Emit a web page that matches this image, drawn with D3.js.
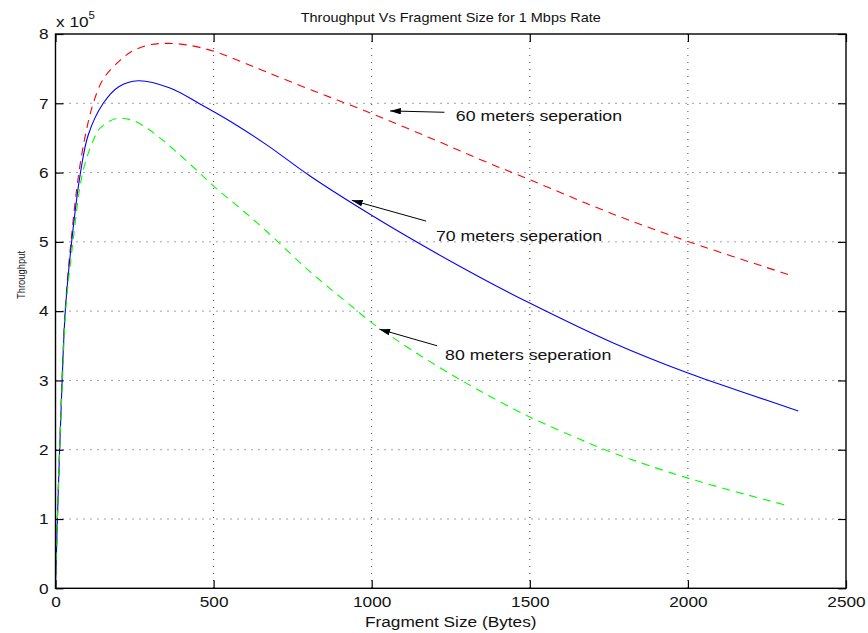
<!DOCTYPE html>
<html><head><meta charset="utf-8">
<script src="https://cdn.jsdelivr.net/npm/d3@7"></script>
<style>
body{margin:0;background:#fff;}
svg{display:block;font-family:"Liberation Sans",Arial,Helvetica,sans-serif;}
</style></head>
<body><svg id="c" width="868" height="633"></svg>
<script>
// ---- data (throughput in units of 1e5) ----
const xTicks = [0, 500, 1000, 1500, 2000, 2500];
const yTicks = [0, 1, 2, 3, 4, 5, 6, 7, 8];

const red60X = [0, 6, 13, 21, 31, 50, 74, 95, 118, 151, 204, 246, 299, 356, 420, 501, 580, 668, 805, 1001, 1195, 1353, 1498, 1764, 1998, 2323];
const red60Y = [0, 1.0, 2.0, 3.05, 4.05, 5.05, 6.0, 6.55, 6.98, 7.35, 7.62, 7.76, 7.845, 7.865, 7.84, 7.75, 7.615, 7.45, 7.20, 6.85, 6.48, 6.17, 5.90, 5.40, 5.01, 4.52];

const blue70X = [0, 6, 13, 21, 31, 51, 79, 104, 151, 200, 262, 362, 457, 560, 668, 805, 1001, 1195, 1342, 1498, 1764, 1998, 2200, 2349];
const blue70Y = [0, 1.0, 2.0, 3.0, 4.0, 5.0, 6.0, 6.55, 7.0, 7.24, 7.325, 7.22, 6.99, 6.72, 6.40, 5.95, 5.38, 4.86, 4.49, 4.12, 3.54, 3.11, 2.79, 2.56];

const green80X = [0, 6, 13, 22, 32, 54, 86, 120, 141, 193, 246, 299, 357, 457, 501, 580, 668, 805, 942, 1001, 1150, 1269, 1342, 1501, 1659, 1754, 2000, 2318];
const green80Y = [0, 1.0, 2.0, 3.0, 4.0, 4.95, 6.0, 6.47, 6.64, 6.78, 6.75, 6.61, 6.40, 5.99, 5.80, 5.50, 5.15, 4.57, 4.05, 3.83, 3.37, 3.04, 2.85, 2.47, 2.15, 1.97, 1.59, 1.19];

const annLabels = ["60 meters seperation", "70 meters seperation", "80 meters seperation"];
const annTipX = [1058, 937, 1024];
const annTipY = [6.89, 5.60, 3.74];
const annTailX = [1230, 1172, 1207];
const annTailY = [6.87, 5.30, 3.50];
const annTextX = [1266, 1203, 1232];
const annTextY = [6.75, 5.01, 3.30];

const titleText = "Throughput Vs Fragment Size for 1 Mbps Rate";
const xLabel = "Fragment Size (Bytes)";
const yLabel = "Throughput";

// ---- layout ----
const L = 55.5, R = 846, T = 34, B = 588.3;
const SX = 1.15;
const svg = d3.select("#c");
svg.append("rect").attr("width", 868).attr("height", 633).attr("fill", "#fff");

const x = d3.scaleLinear().domain([0, 2500]).range([L, R]);
const y = d3.scaleLinear().domain([0, 8]).range([B, T]);

// grid
const grid = svg.append("g").attr("stroke", "#444").attr("stroke-width", 1).attr("stroke-dasharray", "1,6");
grid.selectAll(".gx").data(xTicks.slice(1, -1)).join("line")
  .attr("x1", d => x(d)).attr("x2", d => x(d)).attr("y1", T).attr("y2", B);
grid.selectAll(".gy").data(yTicks.slice(1, -1)).join("line")
  .attr("y1", d => y(d)).attr("y2", d => y(d)).attr("x1", L).attr("x2", R);

// curves
const line = d3.line().x(d => x(d[0])).y(d => y(d[1])).curve(d3.curveCatmullRom.alpha(0.5));
const series = [
  {xs: red60X, ys: red60Y, color: "#ff0000", dash: "8,6"},
  {xs: blue70X, ys: blue70Y, color: "#0000ff", dash: null},
  {xs: green80X, ys: green80Y, color: "#00ff00", dash: "8,6"}
];
series.forEach(s => {
  svg.append("path").datum(d3.zip(s.xs, s.ys)).attr("d", line)
    .attr("fill", "none").attr("stroke", s.color).attr("stroke-width", 1.1)
    .attr("stroke-dasharray", s.dash);
});

// axes
function styleAxis(g) {
  g.select(".domain").remove();
  g.selectAll(".tick line").attr("stroke", "#000").attr("stroke-width", 1.2);
  g.selectAll(".tick text").attr("fill", "#111").style("font-size", "15px");
}
svg.append("g").attr("transform", `translate(0,${B})`)
  .call(d3.axisBottom(x).tickValues(xTicks).tickSize(-8).tickPadding(8).tickFormat(d3.format("d")))
  .call(styleAxis).call(g => g.selectAll(".tick text").attr("transform", `scale(${SX},1)`));
svg.append("g").attr("transform", `translate(0,${T})`)
  .call(d3.axisTop(x).tickValues(xTicks).tickSize(-8).tickFormat(""))
  .call(styleAxis);
svg.append("g").attr("transform", `translate(${L},0)`)
  .call(d3.axisLeft(y).tickValues(yTicks).tickSize(-8).tickPadding(6).tickFormat(d3.format("d")))
  .call(styleAxis).call(g => g.selectAll(".tick text").attr("transform", `scale(${SX},1)`));
svg.append("g").attr("transform", `translate(${R},0)`)
  .call(d3.axisRight(y).tickValues(yTicks).tickSize(-8).tickFormat(""))
  .call(styleAxis);

svg.append("rect").attr("x", L).attr("y", T).attr("width", R - L).attr("height", B - T)
  .attr("fill", "none").attr("stroke", "#000").attr("stroke-width", 1.4);

// text helper
function stext(px, py, str, size, anchor) {
  return svg.append("text").attr("transform", `translate(${px},${py}) scale(${SX},1)`)
    .attr("text-anchor", anchor).style("font-size", size + "px").attr("fill", "#111").text(str);
}

// exponent
const ex = svg.append("text").attr("transform", `translate(56,27) scale(${SX},1)`).style("font-size", "15px").attr("fill", "#111");
ex.append("tspan").text("x 10");
ex.append("tspan").attr("dy", -8).style("font-size", "10px").text("5");

// title & labels
stext((L + R) / 2, 22, titleText, 12.6, "middle");
stext((L + R) / 2, 627, xLabel, 15, "middle");
svg.append("text").attr("transform", `translate(25,275) rotate(-90)`).attr("text-anchor", "middle")
  .attr("textLength", 48).attr("lengthAdjust", "spacingAndGlyphs")
  .style("font-size", "11.5px").attr("fill", "#111").text(yLabel);

// annotations
svg.append("defs").append("marker").attr("id", "ah").attr("viewBox", "0 0 10 6")
  .attr("refX", 10).attr("refY", 3).attr("markerWidth", 11).attr("markerHeight", 6.5)
  .attr("markerUnits", "userSpaceOnUse").attr("orient", "auto")
  .append("path").attr("d", "M0,0L10,3L0,6Z").attr("fill", "#000");
annLabels.forEach((lab, i) => {
  svg.append("line").attr("x1", x(annTailX[i])).attr("y1", y(annTailY[i]))
    .attr("x2", x(annTipX[i])).attr("y2", y(annTipY[i]))
    .attr("stroke", "#000").attr("stroke-width", 1).attr("marker-end", "url(#ah)");
  stext(x(annTextX[i]), y(annTextY[i]), lab, 15.4, "start");
});
</script></body></html>
